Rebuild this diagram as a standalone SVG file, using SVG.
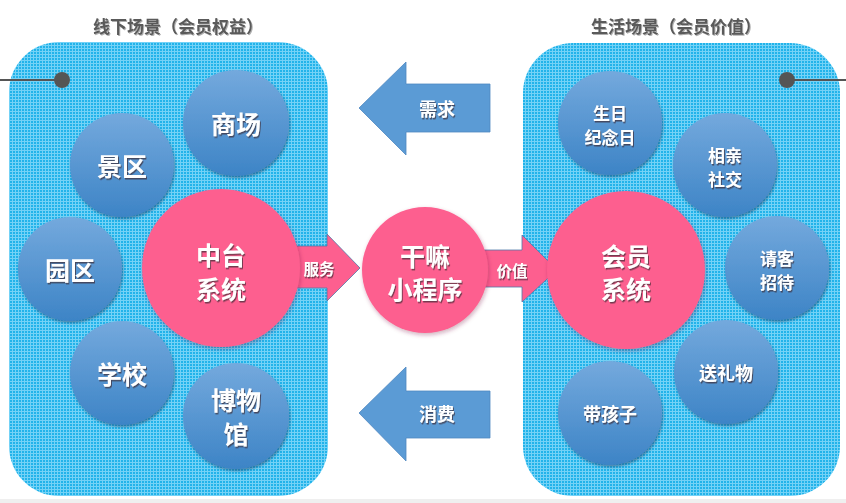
<svg xmlns="http://www.w3.org/2000/svg" width="846" height="503" viewBox="0 0 846 503">
  <defs>
    <pattern id="grid" width="3" height="3" patternUnits="userSpaceOnUse">
      <rect width="3" height="3" fill="#22b3ea"/>
      <rect x="0" y="0" width="3" height="1" fill="#74d2f6"/>
      <rect x="0" y="0" width="1" height="3" fill="#74d2f6"/>
    </pattern>
    <linearGradient id="blueG" x1="0" y1="0" x2="0" y2="1">
      <stop offset="0" stop-color="#74a9dd"/>
      <stop offset="1" stop-color="#3d84c6"/>
    </linearGradient>
    <filter id="cshadow" x="-20%" y="-20%" width="140%" height="140%">
      <feDropShadow dx="1" dy="2" stdDeviation="1.5" flood-color="#1a3f66" flood-opacity="0.55"/>
    </filter>
    <filter id="pshadow" x="-20%" y="-20%" width="140%" height="140%">
      <feDropShadow dx="1" dy="2" stdDeviation="2" flood-color="#7a2040" flood-opacity="0.35"/>
    </filter>
    <filter id="tshadow" x="-20%" y="-20%" width="140%" height="140%">
      <feDropShadow dx="1" dy="1.5" stdDeviation="0.4" flood-color="#3a2a30" flood-opacity="0.7"/>
    </filter>
    <filter id="gshadow" x="-10%" y="-30%" width="120%" height="160%">
      <feDropShadow dx="1" dy="1" stdDeviation="0.6" flood-color="#9a9a9a" flood-opacity="0.8"/>
    </filter>
  </defs>
  <style>
    .panel { fill: url(#grid); }
    .title { font-family: "Noto Sans CJK SC", "Liberation Sans", sans-serif; font-weight: bold; font-size: 17px; fill: #5a5a5a; text-anchor: middle; }
    .bc { fill: url(#blueG); filter: url(#cshadow); }
    .pc { fill: #fd5f8f; filter: url(#pshadow); }
    .t { font-family: "Noto Sans CJK SC", "Liberation Sans", sans-serif; font-weight: bold; fill: #ffffff; text-anchor: middle; dominant-baseline: central; filter: url(#tshadow); }
    .big { font-size: 25px; }
    .mid { font-size: 18px; }
    .two { font-size: 17px; }
    .sm { font-size: 15.5px; }
    .barrow { fill: #5b9bd5; stroke: #4f88c0; stroke-width: 0.8; }
    .parrow { fill: #fd5f8f; stroke: #4f7aa8; stroke-width: 0.8; }
    .lead { stroke: #555555; stroke-width: 2; }
    .dot { fill: #555555; }
  </style>

  <rect x="0" y="499" width="846" height="4" fill="#efefef"/>

  <g id="titles">
    <text class="title" x="178" y="33" filter="url(#gshadow)">线下场景（会员权益）</text>
    <text class="title" x="676" y="33" filter="url(#gshadow)">生活场景（会员价值）</text>
  </g>

  <g id="panel-left">
    <rect class="panel" x="9" y="42" width="319" height="454" rx="50" ry="50"/>
  </g>
  <g id="panel-right">
    <rect class="panel" x="523" y="43" width="317" height="453" rx="50" ry="50"/>
  </g>

  <g id="connectors">
    <line class="lead" x1="0" y1="80" x2="56" y2="80"/>
    <circle class="dot" cx="62" cy="80" r="8"/>
    <line class="lead" x1="792" y1="80" x2="846" y2="80"/>
    <circle class="dot" cx="787" cy="80" r="8"/>
    <g id="arrow-xuqiu">
      <polygon class="barrow" points="490,84 406,84 406,62 359,108 406,155 406,132 490,132"/>
      <text class="t mid" x="437" y="108">需求</text>
    </g>
    <g id="arrow-xiaofei">
      <polygon class="barrow" points="490,391 406,391 406,367 359,413 406,461 406,438 490,438"/>
      <text class="t mid" x="437" y="413">消费</text>
    </g>
    <g id="arrow-fuwu">
      <polygon class="parrow" points="290,246 327,246 327,234 360,268 327,301 327,288 290,288"/>
      <text class="t sm" x="319" y="268">服务</text>
    </g>
    <g id="arrow-jiazhi">
      <polygon class="parrow" points="480,250 522,250 522,235 557,270 522,302 522,287 480,287"/>
      <text class="t sm" x="512" y="270">价值</text>
    </g>
  </g>

  <g id="node-shangchang">
    <circle class="bc" cx="236" cy="123" r="53"/>
    <text class="t big" x="236" y="123">商场</text>
  </g>
  <g id="node-jingqu">
    <circle class="bc" cx="122" cy="165" r="52"/>
    <text class="t big" x="122" y="165">景区</text>
  </g>
  <g id="node-yuanqu">
    <circle class="bc" cx="70" cy="269" r="52"/>
    <text class="t big" x="70" y="269">园区</text>
  </g>
  <g id="node-xuexiao">
    <circle class="bc" cx="122" cy="373" r="52"/>
    <text class="t big" x="122" y="373">学校</text>
  </g>
  <g id="node-bowuguan">
    <circle class="bc" cx="236" cy="416" r="53"/>
    <text class="t big" x="236" y="399">博物</text>
    <text class="t big" x="236" y="433">馆</text>
  </g>
  <g id="node-zhongtai">
    <circle class="pc" cx="221" cy="268" r="79"/>
    <text class="t big" x="221" y="254">中台</text>
    <text class="t big" x="221" y="288">系统</text>
  </g>

  <g id="node-ganma">
    <circle class="pc" cx="425" cy="270" r="63"/>
    <text class="t big" x="425" y="255">干嘛</text>
    <text class="t big" x="425" y="288">小程序</text>
  </g>

  <g id="node-shengri">
    <circle class="bc" cx="610" cy="123" r="52"/>
    <text class="t two" x="610" y="112">生日</text>
    <text class="t two" x="610" y="136">纪念日</text>
  </g>
  <g id="node-xiangqin">
    <circle class="bc" cx="725" cy="165" r="52"/>
    <text class="t two" x="725" y="154">相亲</text>
    <text class="t two" x="725" y="178">社交</text>
  </g>
  <g id="node-qingke">
    <circle class="bc" cx="777" cy="268" r="52"/>
    <text class="t two" x="777" y="257">请客</text>
    <text class="t two" x="777" y="281">招待</text>
  </g>
  <g id="node-songliwu">
    <circle class="bc" cx="726" cy="372" r="52"/>
    <text class="t mid" x="726" y="372">送礼物</text>
  </g>
  <g id="node-daihaizi">
    <circle class="bc" cx="610" cy="413" r="52"/>
    <text class="t mid" x="610" y="413">带孩子</text>
  </g>
  <g id="node-huiyuan">
    <circle class="pc" cx="626" cy="270" r="79"/>
    <text class="t big" x="626" y="255">会员</text>
    <text class="t big" x="626" y="288">系统</text>
  </g>
</svg>
